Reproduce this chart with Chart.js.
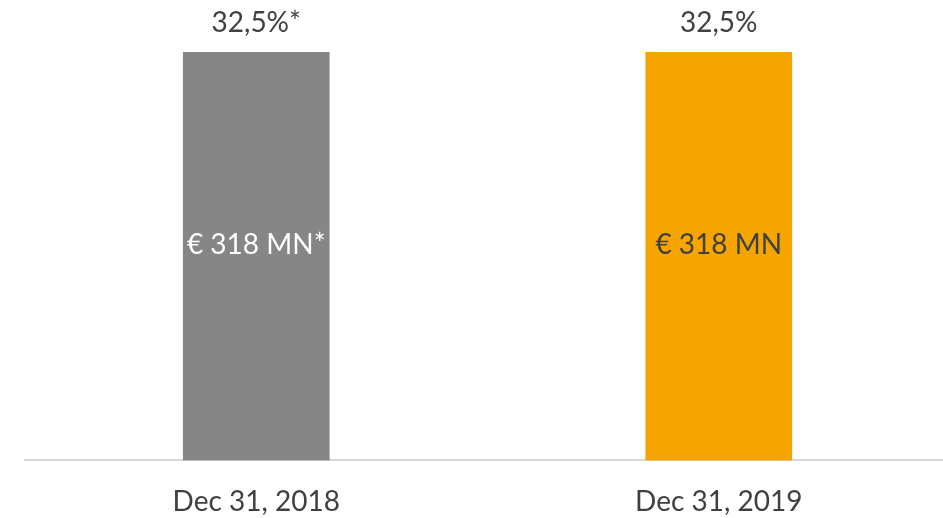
<!DOCTYPE html>
<html>
<head>
<meta charset="utf-8">
<script src="https://cdn.jsdelivr.net/npm/chart.js@4/dist/chart.umd.min.js"></script>
<style>
  html, body { margin: 0; padding: 0; background: #fff; overflow: hidden; }
  #wrap { width: 950px; height: 518px; }
</style>
</head>
<body>
<div id="wrap"><canvas id="chart"></canvas></div>
<script>
// Datos
const categorias = ['Dec 31, 2018', 'Dec 31, 2019'];
const valores = [318, 318];
const etiquetasInternas = ['€ 318 MN*', '€ 318 MN'];
const etiquetasSuperiores = ['32,5%*', '32,5%'];
const colores = ['#868686', '#F6A500'];
const coloresTexto = ['#ffffff', '#404040'];

const fuente = 'Lato, "Open Sans", sans-serif';

// Plugin para las etiquetas de las barras
const etiquetas = {
  id: 'etiquetas',
  afterDatasetsDraw(chart) {
    const ctx = chart.ctx;
    const meta = chart.getDatasetMeta(0);
    ctx.save();
    ctx.font = '28px ' + fuente;
    ctx.textAlign = 'center';
    ctx.textBaseline = 'middle';
    meta.data.forEach((bar, i) => {
      ctx.fillStyle = '#404040';
      ctx.fillText(etiquetasSuperiores[i], bar.x, bar.y - 29);
      ctx.fillStyle = coloresTexto[i];
      ctx.fillText(etiquetasInternas[i], bar.x, (bar.y + bar.base) / 2 - 11);
    });
    ctx.restore();
  }
};

const ctx = document.getElementById('chart').getContext('2d');
new Chart(ctx, {
  type: 'bar',
  data: {
    labels: categorias,
    datasets: [{
      data: valores,
      backgroundColor: colores,
      barThickness: 146
    }]
  },
  options: {
    responsive: true,
    maintainAspectRatio: false,
    animation: false,
    layout: { padding: { top: 52, left: 25, right: 0, bottom: -18 } },
    plugins: {
      legend: { display: false },
      tooltip: { enabled: false }
    },
    scales: {
      x: {
        grid: { display: false },
        border: { display: true, color: '#d9d9d9', width: 2 },
        ticks: {
          color: '#404040',
          padding: 17,
          font: { family: fuente, size: 28 }
        }
      },
      y: {
        display: false,
        min: 0,
        max: 318
      }
    }
  },
  plugins: [etiquetas]
});
</script>
</body>
</html>
